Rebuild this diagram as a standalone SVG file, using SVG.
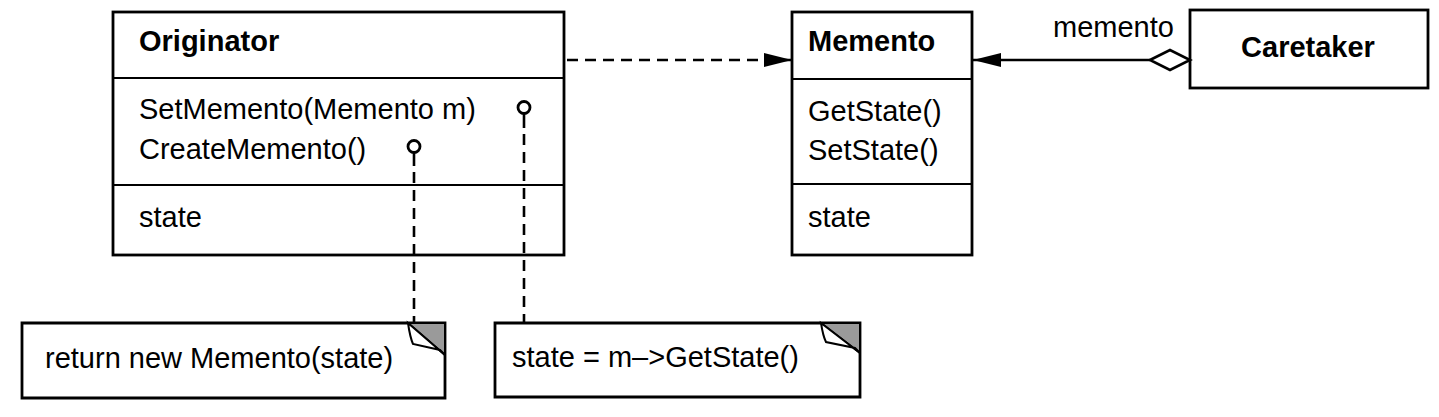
<svg xmlns="http://www.w3.org/2000/svg" width="1439" height="417" viewBox="0 0 1439 417">
<defs>
<style>
.box{fill:#fff;stroke:#000;stroke-width:2.8}
.div{stroke:#000;stroke-width:2.2}
.t{font-family:"Liberation Sans",Arial,sans-serif;font-size:29px;fill:#000}
.b{font-weight:bold}
.ln{fill:none;stroke:#000;stroke-width:2.6}
.dash{stroke-dasharray:11 7}
.ear{fill:#9a9a9a;stroke:#000;stroke-width:2}
.flap{fill:#fff;stroke:#000;stroke-width:2}
.lol{fill:#fff;stroke:#000;stroke-width:2.8}
</style>
<marker id="arr" markerUnits="userSpaceOnUse" markerWidth="30" markerHeight="16" refX="28" refY="8" orient="auto">
<path d="M0,1 L28,8 L0,15 Z" fill="#000"/>
</marker>
</defs>
<rect width="1439" height="417" fill="#fff"/>

<g id="originator">
<rect class="box" x="113" y="12" width="451" height="243"/>
<line class="div" x1="113" y1="78" x2="564" y2="78"/>
<line class="div" x1="113" y1="185" x2="564" y2="185"/>
<text class="t b" x="139" y="51">Originator</text>
<text class="t" x="139" y="119">SetMemento(Memento m)</text>
<text class="t" x="139" y="159">CreateMemento()</text>
<text class="t" x="139" y="227">state</text>
</g>

<g id="memento">
<rect class="box" x="792" y="12" width="180" height="243"/>
<line class="div" x1="792" y1="79" x2="972" y2="79"/>
<line class="div" x1="792" y1="184" x2="972" y2="184"/>
<text class="t b" x="808" y="51">Memento</text>
<text class="t" x="808" y="121">GetState()</text>
<text class="t" x="808" y="160">SetState()</text>
<text class="t" x="808" y="227">state</text>
</g>

<g id="caretaker">
<rect class="box" x="1190" y="10" width="238" height="78"/>
<text class="t b" x="1308" y="57" text-anchor="middle">Caretaker</text>
</g>

<g id="note1">
<path class="box" d="M22,323 H445 V398 H22 Z"/>
<path class="ear" d="M408,323 H445 V355 Z"/>
<path class="flap" d="M408,323 Q410,337 413,344 L440,350 L445,355 Z"/>
<text class="t" x="45" y="368">return new Memento(state)</text>
</g>

<g id="note2">
<path class="box" d="M495,323 H860 V397 H495 Z"/>
<path class="ear" d="M821,323 H860 V353 Z"/>
<path class="flap" d="M821,323 Q823,336 826,342 L855,348 L860,353 Z"/>
<text class="t" x="512" y="367">state = m–&gt;GetState()</text>
</g>

<g id="connectors">
<line class="ln dash" x1="567" y1="60" x2="792" y2="60" marker-end="url(#arr)"/>
<line class="ln" x1="1150" y1="60" x2="973" y2="60" marker-end="url(#arr)"/>
<path class="ln" d="M1150,60 L1170,50 L1190,60 L1170,70 Z" fill="#fff"/>
<text class="t" x="1053" y="37">memento</text>
<line class="ln" x1="414" y1="153" x2="414" y2="166"/>
<line class="ln dash" x1="414" y1="172" x2="414" y2="323"/>
<line class="ln" x1="524" y1="114" x2="524" y2="128"/>
<line class="ln dash" x1="524" y1="134" x2="524" y2="323"/>
<circle class="lol" cx="524" cy="107.5" r="6"/>
<circle class="lol" cx="414" cy="146.5" r="6"/>
</g>
</svg>
